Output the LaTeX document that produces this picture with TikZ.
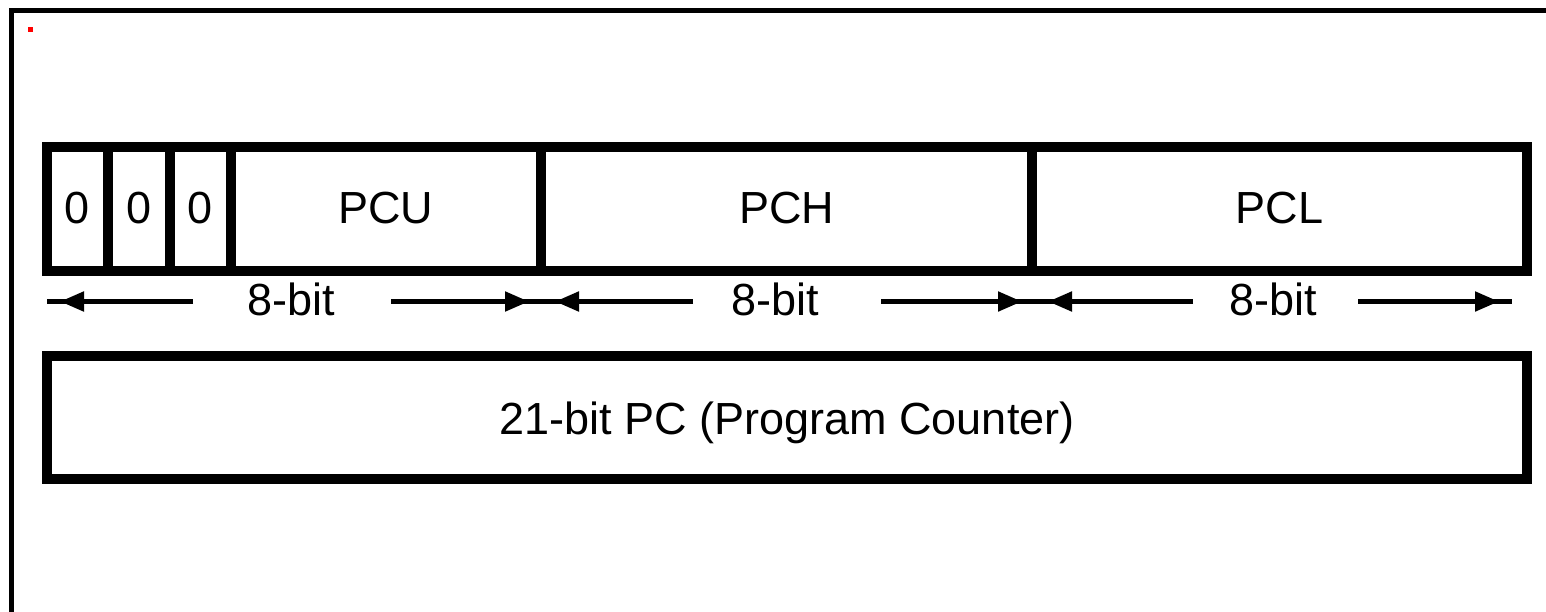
\documentclass[tikz,border=0pt]{standalone}
\usepackage{fontspec}
\setmainfont{Liberation Sans}
\usetikzlibrary{arrows.meta,decorations.markings}

\tikzset{
  regfont/.style={font=\fontsize{45}{50}\selectfont},
  cell/.style={draw, line width=10pt, minimum height=124pt, inner sep=0pt,
               outer sep=0pt, regfont, text height=28pt, text depth=0pt},
  pcbox/.style={draw, line width=10pt, minimum width=1480pt, minimum height=123pt,
                inner sep=0pt, outer sep=0pt, regfont, text height=33pt, text depth=0pt},
  bitlabel/.style={inner sep=0pt, regfont, text height=30pt, text depth=0pt},
  dimline/.style={line width=5pt},
  tipend/.style={postaction={decorate},
    decoration={markings, mark=at position -13pt with {\arrow{Triangle[length=24pt,width=19pt]}}}},
  frame/.style={line width=5pt}
}

\begin{document}
\begin{tikzpicture}[x=1pt, y=-1pt]
  \useasboundingbox[fill=white] (0,0) rectangle (1546,611);

  % page frame (top and left edges) and marker
  \draw[frame] (11.5,620) -- (11.5,10.5) -- (1560,10.5);
  \fill[red] (28,27) rectangle (33,32);

  % register cells
  \node[cell, minimum width=61pt]    (z1)  at (77.5,209)   {0};
  \node[cell, minimum width=61.5pt]  (z2)  at (138.75,209) {0};
  \node[cell, minimum width=61pt]    (z3)  at (200,209)    {0};
  \node[cell, minimum width=310.5pt] (pcu) at (385.75,209) {PCU};
  \node[cell, minimum width=491pt]   (pch) at (786.5,209)  {PCH};
  \node[cell, minimum width=495pt]   (pcl) at (1279.5,209) {PCL};

  % width labels
  \node[bitlabel] (b1) at (291,300)  {8-bit};
  \node[bitlabel] (b2) at (775,300)  {8-bit};
  \node[bitlabel] (b3) at (1273,300) {8-bit};

  % dimension line end points
  \coordinate (a1l) at (47,301.5);
  \coordinate (a1i) at (193,301.5);
  \coordinate (a1j) at (391,301.5);
  \coordinate (m12) at (542,301.5);
  \coordinate (a2i) at (693,301.5);
  \coordinate (a2j) at (881,301.5);
  \coordinate (m23) at (1035,301.5);
  \coordinate (a3i) at (1193,301.5);
  \coordinate (a3j) at (1358,301.5);
  \coordinate (a3r) at (1512,301.5);

  \draw[dimline, tipend] (a1i) -- (a1l);
  \draw[dimline, tipend] (a1j) -- (m12);
  \draw[dimline, tipend] (a2i) -- (m12);
  \draw[dimline, tipend] (a2j) -- (m23);
  \draw[dimline, tipend] (a3i) -- (m23);
  \draw[dimline, tipend] (a3j) -- (a3r);

  % whole counter
  \node[pcbox] (pc) at (787,417.5) {21-bit PC (Program Counter)};
\end{tikzpicture}
\end{document}
